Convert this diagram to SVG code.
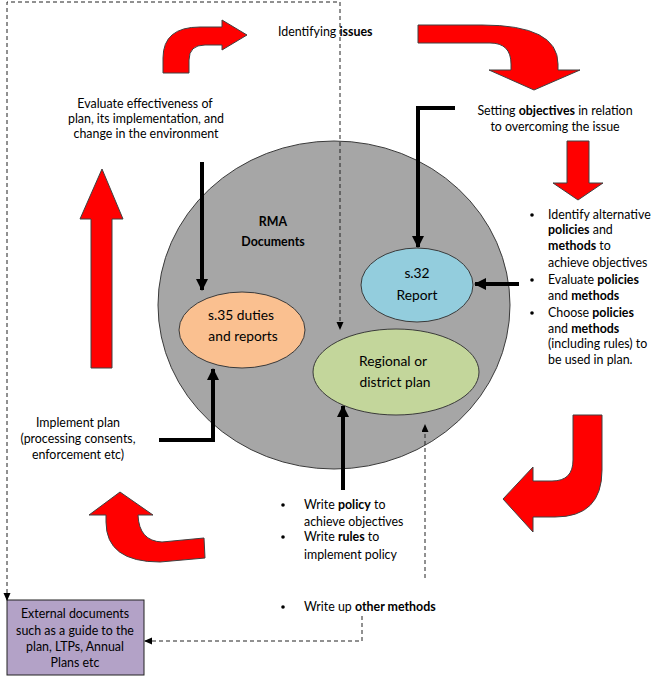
<svg xmlns="http://www.w3.org/2000/svg" width="664" height="677" viewBox="0 0 664 677">
<defs>
<style>
text{font-family:Lato,"Open Sans","Liberation Sans",sans-serif;font-size:12.4px;fill:#000}
.c{text-anchor:middle}
.b{font-weight:bold}
.e{font-size:13.8px}
.red{fill:#ff0000;stroke:#404040;stroke-width:1}
.thick{fill:none;stroke:#000;stroke-width:4}
.dash{fill:none;stroke:#222;stroke-width:1;stroke-dasharray:4 3}
.ell{stroke:#3a3a3a;stroke-width:1}
</style>
<marker id="ah" markerUnits="userSpaceOnUse" markerWidth="12" markerHeight="12" refX="11" refY="6" orient="auto"><path d="M0,0 L12,6 L0,12 Z" fill="#000"/></marker>
<marker id="dh" markerUnits="userSpaceOnUse" markerWidth="8" markerHeight="8" refX="7" refY="3.5" orient="auto-start-reverse"><path d="M0,0 L8,3.5 L0,7 Z" fill="#000"/></marker>
</defs>
<rect width="664" height="677" fill="#fff"/>

<g id="circle-rma">
<ellipse cx="334" cy="305" rx="176" ry="164" fill="#a6a6a6" class="ell"/>
<text class="c b" x="273" y="226">RMA</text>
<text class="c b" x="273" y="246">Documents</text>
</g>

<g id="red-arrows">
<path class="red" d="M163,73 V58 Q163,27 200,27 H222 V20 L247,35 L222,50 V45 H205 Q189,45 189,60 V73 Z"/>
<path class="red" d="M418,25 H482 Q558,25 558,64 V70 H580 L534,90 L489,70 H511 V64 Q511,43 490,43 H418 Z"/>
<path class="red" d="M567,141 H589 V183 H603 L578,200 L553,183 H567 Z"/>
<path class="red" d="M91,368 V219 H80 L102,169 L123,219 H112 V368 Z"/>
<path class="red" d="M573,415 H602 V470 Q602,517 555,517 H533 V532 L503,499 L533,467 V481 H552 Q573,481 573,460 Z"/>
<path class="red" d="M204,538 L205,558 L160,562 Q106,562 106,522 V515 H89 L120,492 L153,515 H138 Q139,541 162,542 Z"/>
</g>

<g id="node-s35">
<ellipse cx="242" cy="330" rx="63" ry="38" fill="#fac090" class="ell"/>
<text class="c e" x="241" y="320">s.35 duties</text>
<text class="c e" x="243" y="341">and reports</text>
</g>
<g id="node-s32">
<ellipse cx="417" cy="285" rx="56" ry="37" fill="#93cddd" class="ell"/>
<text class="c e" x="417" y="278">s.32</text>
<text class="c e" x="417" y="300">Report</text>
</g>
<g id="node-plan">
<ellipse cx="396" cy="372" rx="83" ry="43" fill="#c3d69b" class="ell"/>
<text class="c e" x="393" y="366">Regional or</text>
<text class="c e" x="395" y="387">district plan</text>
</g>
<g id="node-external">
<rect x="7" y="600" width="137" height="75" fill="#b3a2c7" stroke="#222" stroke-width="1"/>
<text class="c" x="75" y="618">External documents</text>
<text class="c" x="75" y="635">such as a guide to the</text>
<text class="c" x="75" y="651">plan, LTPs, Annual</text>
<text class="c" x="75" y="667">Plans etc</text>
</g>

<g id="labels">
<text x="278" y="36">Identifying <tspan class="b">issues</tspan></text>
<text class="c" x="145" y="108">Evaluate effectiveness of</text>
<text class="c" x="146" y="123">plan, its implementation, and</text>
<text class="c" x="146" y="138">change in the environment</text>
<text class="c" x="555" y="115">Setting <tspan class="b">objectives</tspan> in relation</text>
<text class="c" x="555" y="131">to overcoming the issue</text>
<text class="c" x="78" y="427">Implement plan</text>
<text class="c" x="78" y="443">(processing consents,</text>
<text class="c" x="78" y="459">enforcement etc)</text>
</g>
<g id="bullets-right">
<circle cx="532" cy="215" r="1.8"/>
<circle cx="532" cy="280" r="1.8"/>
<circle cx="532" cy="313" r="1.8"/>
<text x="548" y="219">Identify alternative</text>
<text x="548" y="234"><tspan class="b">policies</tspan>  and</text>
<text x="548" y="250"><tspan class="b">methods</tspan> to</text>
<text x="548" y="267">achieve objectives</text>
<text x="548" y="284">Evaluate <tspan class="b">policies</tspan></text>
<text x="548" y="300">and <tspan class="b">methods</tspan></text>
<text x="548" y="317">Choose <tspan class="b">policies</tspan></text>
<text x="548" y="333">and <tspan class="b">methods</tspan></text>
<text x="548" y="348">(including rules) to</text>
<text x="548" y="364">be used in plan.</text>
</g>
<g id="bullets-bottom">
<circle cx="283" cy="505" r="1.8"/>
<circle cx="283" cy="537" r="1.8"/>
<circle cx="283" cy="607" r="1.8"/>
<text x="304" y="509">Write <tspan class="b">policy</tspan>  to</text>
<text x="304" y="526">achieve objectives</text>
<text x="304" y="541">Write <tspan class="b">rules</tspan> to</text>
<text x="304" y="559">implement policy</text>
<text x="304" y="611">Write up <tspan class="b">other methods</tspan></text>
</g>

<g id="connectors">
<path class="thick" d="M202,162 V290" marker-end="url(#ah)"/>
<path class="thick" d="M455,108 H418 V247" marker-end="url(#ah)"/>
<path class="thick" d="M519,284 H475" marker-end="url(#ah)"/>
<path class="thick" d="M159,440 H213 V369" marker-end="url(#ah)"/>
<path class="thick" d="M343,490 V406" marker-end="url(#ah)"/>
<path class="dash" d="M7,600 V2 H340 V329" marker-start="url(#dh)" marker-end="url(#dh)"/>
<path class="dash" d="M425,578 V425" marker-end="url(#dh)"/>
<path class="dash" d="M362,616 V641 H145" marker-end="url(#dh)"/>
</g>
</svg>
